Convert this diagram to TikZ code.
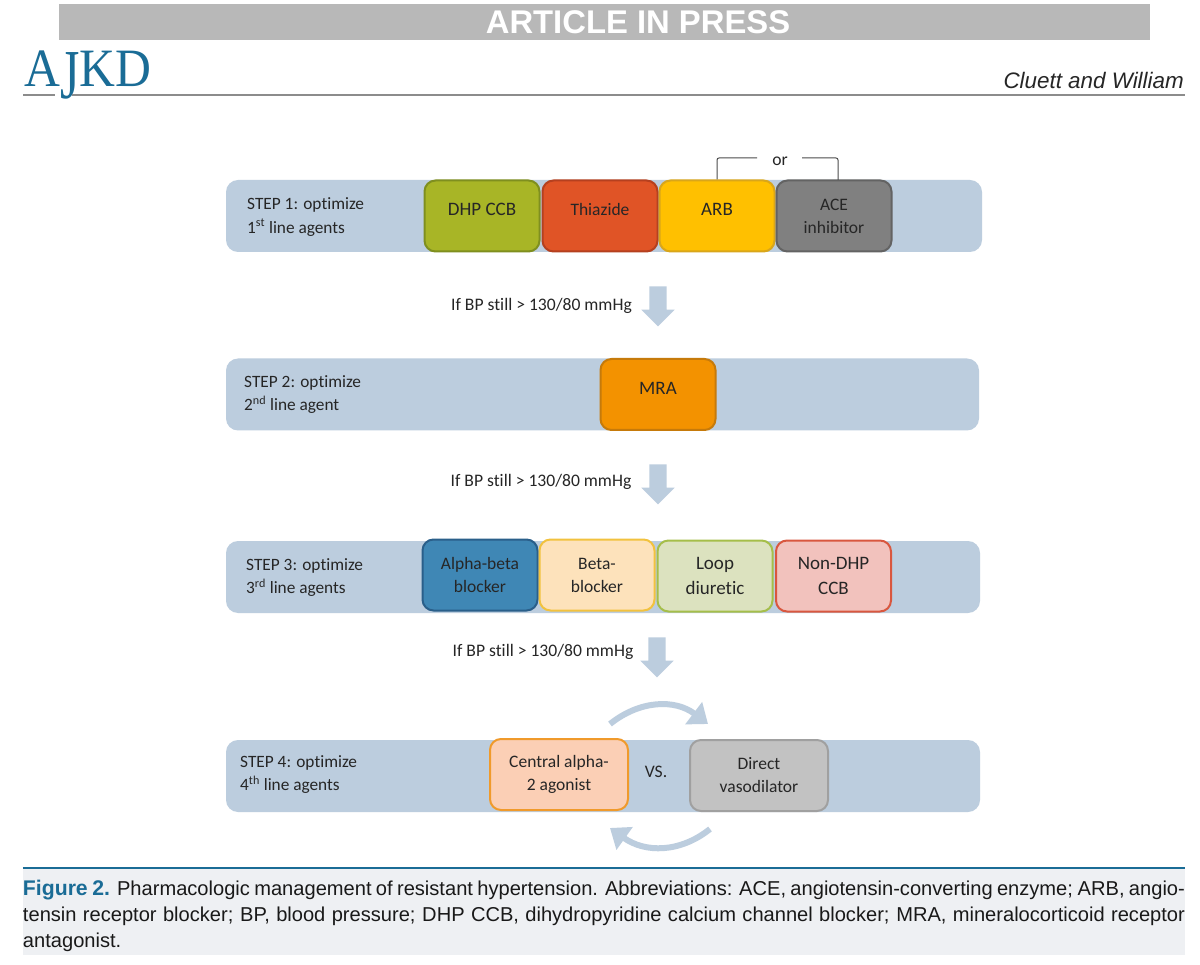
\documentclass[tikz,border=0pt]{standalone}
\usepackage{fontspec}
\setmainfont{Carlito}[Ligatures=NoCommon]
\newfontfamily\capfont{Liberation Sans}
\newfontfamily\logofont{Liberation Serif}
\usepackage{tikz}
\usetikzlibrary{shapes.arrows,arrows.meta}
\definecolor{barblue}{HTML}{BCCDDE}
\definecolor{ajkdblue}{HTML}{1A6C96}
\definecolor{capgrey}{HTML}{EEF0F3}
\definecolor{dhpline}{HTML}{7F8F1F}
\definecolor{dhpfill}{HTML}{A8B526}
\definecolor{thialine}{HTML}{B5401F}
\definecolor{thiafill}{HTML}{E05426}
\definecolor{arbline}{HTML}{D9A61A}
\definecolor{arbfill}{HTML}{FFC000}
\definecolor{aceline}{HTML}{636363}
\definecolor{acefill}{HTML}{808080}
\definecolor{mraline}{HTML}{C67A0A}
\definecolor{mrafill}{HTML}{F39200}
\definecolor{abline}{HTML}{2A5F8A}
\definecolor{abfill}{HTML}{3F87B5}
\definecolor{betaline}{HTML}{F2C23E}
\definecolor{betafill}{HTML}{FDE2BB}
\definecolor{loopline}{HTML}{A5BE4A}
\definecolor{loopfill}{HTML}{DCE2BF}
\definecolor{ndline}{HTML}{D9573F}
\definecolor{ndfill}{HTML}{F2C2BD}
\definecolor{centline}{HTML}{F09A2B}
\definecolor{centfill}{HTML}{FBCFB5}
\definecolor{dirline}{HTML}{A0A0A0}
\definecolor{dirfill}{HTML}{C2C2C2}
\newcommand{\uptext}[1]{\raisebox{13pt}{#1}}
\tikzset{
  stepbar/.style={fill=barblue,rounded corners=12pt,minimum height=72pt,inner sep=0pt},
  drug/.style={draw=#1line,fill=#1fill,line width=2pt,rounded corners=11pt,minimum width=115pt,minimum height=71pt,inner sep=0pt,align=center,font=\fontsize{17.5}{23}\selectfont,text=black!85},
  bigdrug/.style={drug=#1,font=\fontsize{19}{25.5}\selectfont},
  widedrug/.style={drug=#1,minimum width=138pt},
  steplabel/.style={anchor=west,align=left,inner sep=0pt,font=\fontsize{17.3}{23.5}\selectfont,text=black!85},
  iflabel/.style={inner sep=0pt,font=\fontsize{17.6}{20}\selectfont,text=black!85},
  downarrow/.style={single arrow,fill=barblue,rotate=-90,minimum height=40pt,inner ysep=8.5pt,inner xsep=0pt,single arrow head extend=8pt,single arrow tip angle=90},
  swaparrow/.style={draw=barblue,line width=6pt,-{Triangle[width=27pt,length=18pt]}},
}
\begin{document}
\begin{tikzpicture}[x=1pt,y=-1pt]
\useasboundingbox (0,0) rectangle (1200,965);
\fill[white] (0,0) rectangle (1200,965);
\node (press) at (604.5,22) [fill=black!28,minimum width=1091pt,minimum height=36pt,inner sep=0pt,text=white,font=\capfont\bfseries\fontsize{32.8}{32.8}\selectfont] {\hspace*{67pt}ARTICLE IN PRESS};
\node (logo) at (88,75) [inner sep=0pt,xscale=0.92,text=ajkdblue,font=\logofont\fontsize{54}{54}\selectfont] {A\raisebox{-12pt}{\scalebox{1}[1.3]{J}}KD};
\coordinate (rulea) at (23,95);
\coordinate (ruleb) at (55,95);
\coordinate (rulec) at (72,95);
\coordinate (ruled) at (1185,95);
\draw[black!45,line width=2pt] (rulea) -- (ruleb);
\draw[black!45,line width=2pt] (rulec) -- (ruled);
\node (authors) at (1184,81) [anchor=east,inner sep=0pt,font=\capfont\itshape\fontsize{22.4}{22.4}\selectfont,text=black!85] {Cluett and William};

\node (bar1) at (604,216) [stepbar,minimum width=756pt] {};
\node (bar2) at (602.5,394.5) [stepbar,minimum width=753pt] {};
\node (bar3) at (603,577) [stepbar,minimum width=754pt] {};
\node (bar4) at (603,776) [stepbar,minimum width=754pt] {};

\node (step1) at (247,217) [steplabel] {STEP 1: optimize\\1\textsuperscript{st} line agents};
\node (step2) at (244,394.5) [steplabel] {STEP 2: optimize\\2\textsuperscript{nd} line agent};
\node (step3) at (246,577.5) [steplabel] {STEP 3: optimize\\3\textsuperscript{rd} line agents};
\node (step4) at (240,774.5) [steplabel] {STEP 4: optimize\\4\textsuperscript{th} line agents};

\node (dhp) at (482,216) [bigdrug=dhp] {\uptext{DHP CCB}};
\node (thiazide) at (600,216) [drug=thia] {\uptext{Thiazide}};
\node (arb) at (717,216) [bigdrug=arb] {\uptext{ARB}};
\node (ace) at (834,216) [drug=ace] {ACE\\inhibitor};
\node (mra) at (658,394.5) [bigdrug=mra] {\uptext{MRA}};
\node (alphabeta) at (480,575) [drug=ab] {Alpha-beta\\blocker};
\node (beta) at (597,575) [drug=beta] {Beta-\\blocker};
\node (loop) at (715,576) [bigdrug=loop] {Loop\\diuretic};
\node (nondhp) at (833.5,576) [bigdrug=nd] {Non-DHP\\CCB};
\node (central) at (559,774.5) [widedrug=cent] {Central alpha-\\2 agonist};
\node (direct) at (759,775.5) [widedrug=dir] {Direct\\vasodilator};
\node (vs) at (656,772) [iflabel] {VS.};

\coordinate (acetop) at (838,180);
\coordinate (orleft) at (757,158);
\coordinate (orright) at (802,158);
\node (orlabel) at (780,161.5) [iflabel] {or};
\draw[black!70,line width=1pt,rounded corners=2pt] (arb.north) |- (orleft);
\draw[black!70,line width=1pt,rounded corners=2pt] (orright) -| (acetop);

\node (if1) at (541.5,306) [iflabel] {If BP still > 130/80 mmHg};
\node (if2) at (541,481.5) [iflabel] {If BP still > 130/80 mmHg};
\node (if3) at (543,652) [iflabel] {If BP still > 130/80 mmHg};
\node (down1) at (658,302) [downarrow] {};
\node (down2) at (658,480) [downarrow] {};
\node (down3) at (657,653) [downarrow] {};

\coordinate (swap1a) at (610,724);
\coordinate (swap1b) at (708,724);
\coordinate (swap2a) at (710,829);
\coordinate (swap2b) at (610,828);
\draw[swaparrow] (swap1a) .. controls (640,700) and (675,699) .. (swap1b);
\draw[swaparrow] (swap2a) .. controls (680,853) and (645,853) .. (swap2b);

\node (capback) at (604,911.5) [fill=capgrey,minimum width=1162pt,minimum height=87pt,inner sep=0pt] {};
\draw[ajkdblue,line width=2pt] (capback.north west) -- (capback.north east);
\node (caption) at (604,916) [text width=1162pt,inner sep=0pt,align=justify,font=\capfont\fontsize{20.1}{26}\selectfont,text=black!90] {{\bfseries\color{ajkdblue}\fontsize{21.2}{26}\selectfont Figure 2.} Pharmacologic management of resistant hypertension. Abbreviations: ACE, angiotensin-converting enzyme; ARB, angio-\linebreak tensin receptor blocker; BP, blood pressure; DHP CCB, dihydropyridine calcium channel blocker; MRA, mineralocorticoid receptor\linebreak antagonist.};
\end{tikzpicture}
\end{document}
